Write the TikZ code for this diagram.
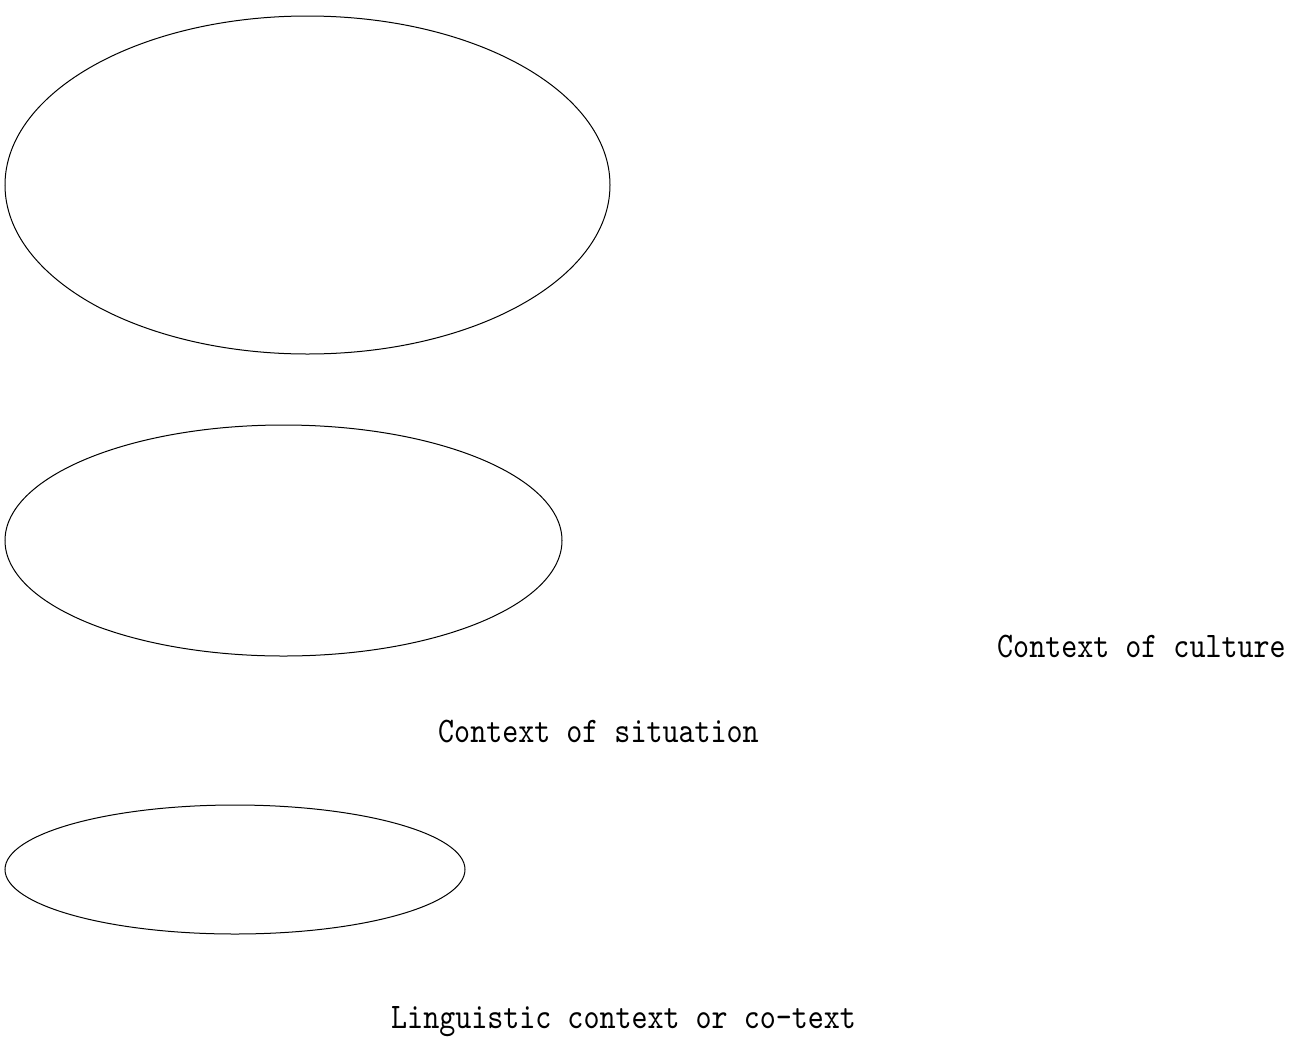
\documentclass[tikz,border=0pt]{standalone}
\usepackage{fontspec}
\newfontfamily\labfont{lmmono10-regular}[Extension=.otf,FakeStretch=0.848]
\begin{document}
\begin{tikzpicture}[x=1pt,y=-1pt,
  ring/.style={draw=black,line width=1pt},
  lab/.style={anchor=base west,inner sep=0pt,font=\labfont\fontsize{36}{40}\selectfont}]
\useasboundingbox[fill=white] (0,0) rectangle (1290,1047);
\draw[ring] (307.5,185) ellipse [x radius=302.5, y radius=169];
\draw[ring] (283.5,540.5) ellipse [x radius=278.5, y radius=115.5];
\draw[ring] (235,869.5) ellipse [x radius=230, y radius=64.5];
\node[lab] (culture) at (997,657) {Context of culture};
\node[lab] (situation) at (438,742) {Context of situation};
\node[lab] (linguistic) at (391,1028) {Linguistic context or co-text};
\end{tikzpicture}
\end{document}
